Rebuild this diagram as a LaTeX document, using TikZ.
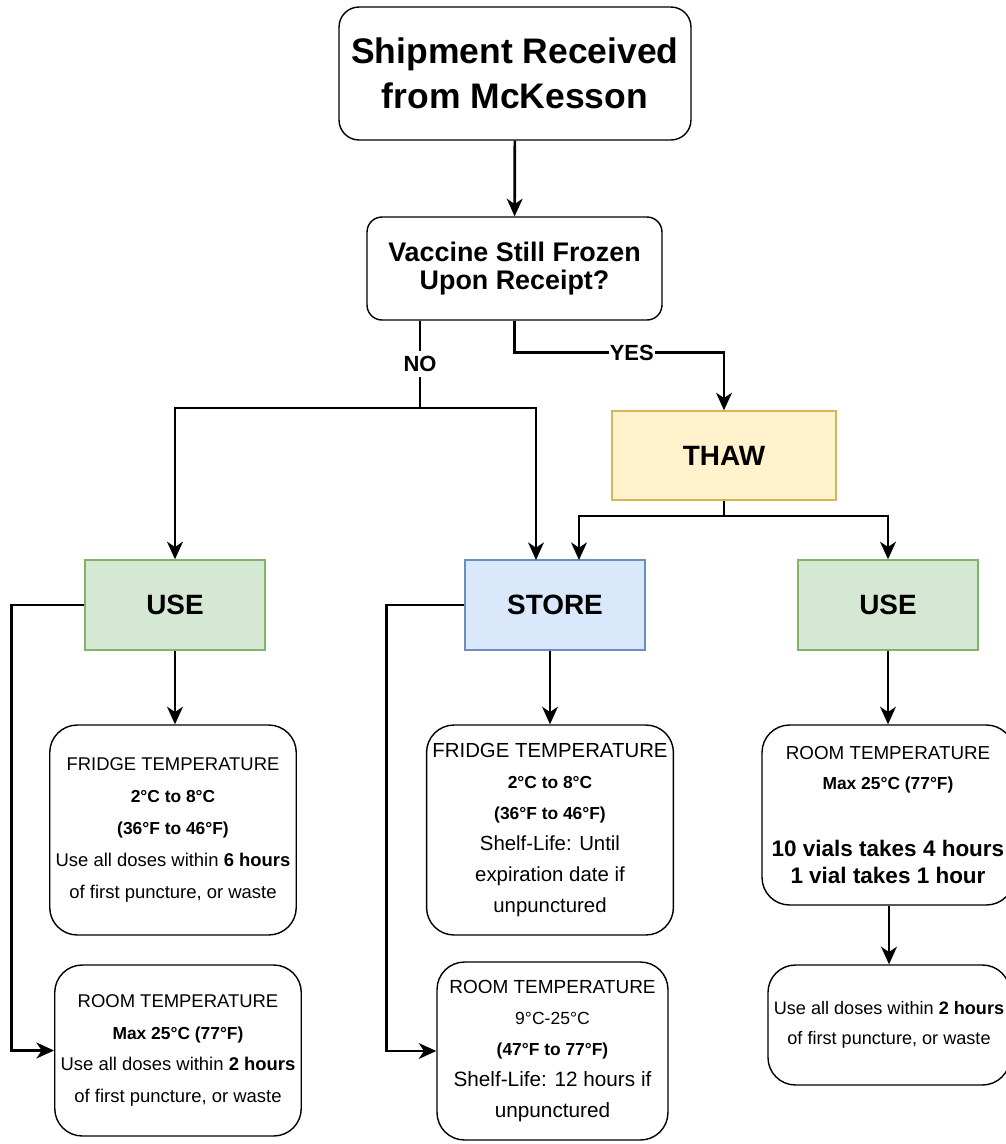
\documentclass[tikz,border=0pt]{standalone}
\usepackage{fontspec}
\setmainfont{Liberation Sans}
\usepackage{xcolor}
\usetikzlibrary{arrows.meta}

\definecolor{useFill}{HTML}{D5E8D4}
\definecolor{useLine}{HTML}{82B366}
\definecolor{storeFill}{HTML}{DAE8FC}
\definecolor{storeLine}{HTML}{6C8EBF}
\definecolor{thawFill}{HTML}{FFF2CC}
\definecolor{thawLine}{HTML}{D6B656}

\newcommand{\bsm}[1]{{\fontsize{9.9}{18}\selectfont\bfseries #1}}

\begin{document}
\begin{tikzpicture}[x=0.02cm, y=-0.02cm,
  flow/.style={line width=1.5pt, -{Stealth[length=10pt,width=9pt,inset=3pt]}},
  link/.style={line width=1.5pt},
  topbox/.style={draw, line width=0.8pt, align=center},
  actbox/.style={draw, line width=0.8pt, minimum width=3.6cm, minimum height=1.8cm,
    font=\fontsize{15.9}{18}\selectfont\bfseries},
  rulebox/.style={draw, line width=0.8pt, rounded corners=0.55cm, align=center},
  lbl/.style={fill=white, inner xsep=0.5pt, inner ysep=3pt, font=\fontsize{12.5}{15}\selectfont\bfseries}]

\useasboundingbox (0,0) rectangle (1006,1144);

\node[topbox, rounded corners=0.4cm, minimum width=7.04cm, minimum height=2.66cm,
  font=\fontsize{20.2}{25.5}\selectfont\bfseries] (ship) at (515,73.5)
  {Shipment Received\\from McKesson};
\node[topbox, rounded corners=0.3cm, minimum width=5.9cm, minimum height=2.06cm,
  font=\fontsize{15.3}{16.4}\selectfont\bfseries] (frozen) at (514.5,268.5)
  {Vaccine Still Frozen\\Upon Receipt?};
\node[actbox, fill=thawFill, draw=thawLine, minimum width=4.48cm, minimum height=1.78cm]
  (thaw) at (724,455.5) {THAW};

\node[actbox, fill=useFill, draw=useLine] (useL) at (175,605) {USE};
\node[actbox, fill=storeFill, draw=storeLine] (store) at (555,605) {STORE};
\node[actbox, fill=useFill, draw=useLine] (useR) at (888,605) {USE};

\node[rulebox, minimum width=4.8cm, minimum height=4.2cm,
  font=\fontsize{10.5}{18.1}\selectfont] (fridgeL) at (173,830)
  {FRIDGE TEMPERATURE\\ \bsm{2°C to 8°C}\\ \bsm{(36°F to 46°F)}\\
   Use all doses within \textbf{6 hours}\\ of first puncture, or waste};
\node[rulebox, minimum width=4.8cm, minimum height=3.42cm,
  font=\fontsize{10.5}{18.1}\selectfont] (roomL) at (178,1050.5)
  {ROOM TEMPERATURE\\ \bsm{Max 25°C (77°F)}\\
   Use all doses within \textbf{2 hours}\\ of first puncture, or waste};

\node[rulebox, minimum width=4.72cm, minimum height=4.2cm,
  font=\fontsize{11.6}{17.6}\selectfont] (fridgeS) at (550,830)
  {FRIDGE TEMPERATURE\\ \bsm{2°C to 8°C}\\ \bsm{(36°F to 46°F)}\\
   Shelf-Life: Until\\ expiration date if\\ unpunctured};
\node[rulebox, minimum width=4.62cm, minimum height=3.56cm,
  font=\fontsize{11.8}{17.6}\selectfont] (roomS) at (552.5,1051)
  {{\fontsize{10.8}{17.6}\selectfont ROOM TEMPERATURE}\\
   {\fontsize{10}{17.6}\selectfont 9°C-25°C}\\ \bsm{(47°F to 77°F)}\\
   Shelf-Life: 12 hours if\\ unpunctured};

\node[rulebox, minimum width=5.04cm, minimum height=3.6cm,
  font=\fontsize{10.7}{17}\selectfont] (roomR) at (888,815)
  {ROOM TEMPERATURE\\ \bsm{Max 25°C (77°F)}\\[21pt]
   {\fontsize{12.8}{15.3}\selectfont\bfseries 10 vials takes 4 hours}\\[-1.7pt]
   {\fontsize{12.8}{15.3}\selectfont\bfseries 1 vial takes 1 hour}};
\node[rulebox, minimum width=4.84cm, minimum height=2.4cm,
  font=\fontsize{10.3}{17}\selectfont] (doseR) at (889,1025)
  {Use all doses within \textbf{2 hours}\\ of first puncture, or waste};

\coordinate (nosplit) at (420,408);
\coordinate (storeinL) at (536,560);
\coordinate (storeinR) at (579,560);
\coordinate (thawsplit) at (724,516);

\draw[flow] (ship) -- (frozen);
\draw[link] (frozen.south -| nosplit) -- node[lbl] {NO} (nosplit);
\draw[flow] (nosplit) -| (useL);
\draw[flow] (nosplit) -| (storeinL);
\draw[flow] (frozen.south) -- ++(0,32) -| node[lbl, pos=0.28] {YES} (thaw);
\draw[link] (thaw) -- (thawsplit);
\draw[flow] (thawsplit) -| (storeinR);
\draw[flow] (thawsplit) -| (useR);

\draw[flow] (useL) -- (useL |- fridgeL.north);
\draw[flow] (useL.west) -- ++(-73,0) |- (roomL.west);
\draw[flow] (store.south -| fridgeS) -- (fridgeS.north);
\draw[flow] (store.west) -- ++(-78,0) |- (roomS.west);
\draw[flow] (useR) -- (useR |- roomR.north);
\draw[flow] (roomR.south -| doseR) -- (doseR.north);
\end{tikzpicture}
\end{document}
